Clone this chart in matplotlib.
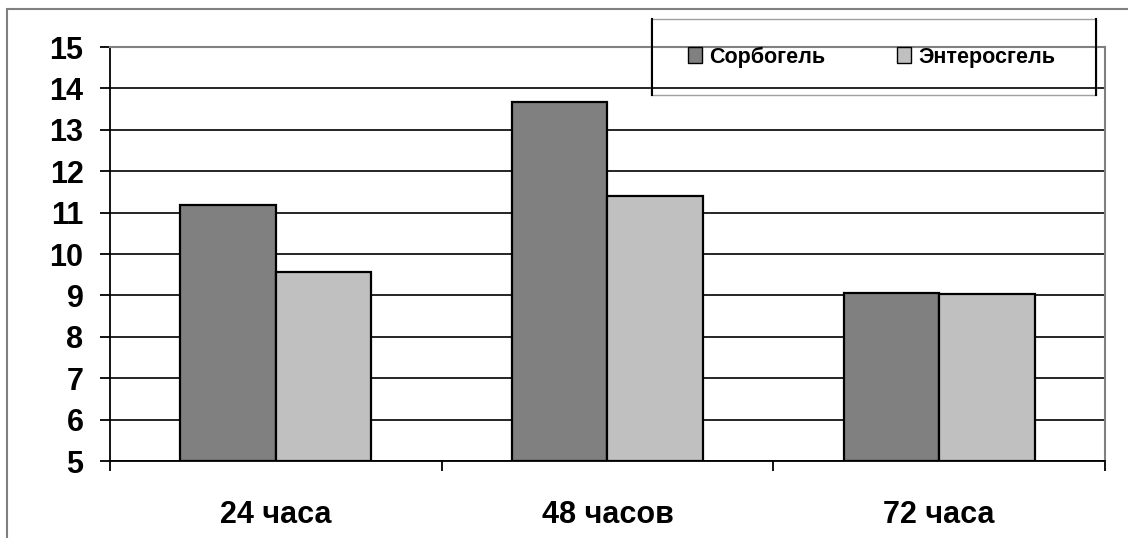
import numpy as np
import matplotlib
matplotlib.use("Agg")
import matplotlib.pyplot as plt
from matplotlib.patches import Rectangle
from matplotlib.lines import Line2D

plt.rcParams['font.family'] = ['Liberation Sans', 'DejaVu Sans']
plt.rcParams['font.weight'] = 'bold'

# data
categories = ["24 часа", "48 часов", "72 часа"]
series_names = ["Сорбогель", "Энтеросгель"]
sorbogel = [11.18, 13.68, 9.06]
enterosgel = [9.57, 11.41, 9.03]
colors = ["#808080", "#C0C0C0"]

fig = plt.figure(figsize=(11.28, 5.38), dpi=100)
ax = fig.add_axes([0.0975, 0.1431, 0.8821, 0.7695])

x = np.arange(len(categories))
w = 0.288
bars1 = ax.bar(x - w / 2, np.array(sorbogel) - 5, w, bottom=5, color=colors[0],
               edgecolor="black", linewidth=1.6, label=series_names[0], zorder=3)
bars2 = ax.bar(x + w / 2, np.array(enterosgel) - 5, w, bottom=5, color=colors[1],
               edgecolor="black", linewidth=1.6, label=series_names[1], zorder=3)

ax.set_xlim(-0.5, len(categories) - 0.5)
ax.set_ylim(5, 15)
ax.set_yticks(range(5, 16))
ax.yaxis.grid(True, color="black", linewidth=1.2)
ax.set_axisbelow(True)

# category boundaries as major ticks, labels on minor ticks
ax.set_xticks(np.arange(-0.5, len(categories), 1.0))
ax.set_xticklabels([])
ax.set_xticks(x, minor=True)
ax.set_xticklabels(categories, minor=True, fontsize=22, fontweight="bold")
ax.tick_params(axis="x", which="major", direction="out", length=7, width=1.3)
ax.tick_params(axis="x", which="minor", length=0, pad=28)
ax.tick_params(axis="y", direction="out", length=7, width=1.3, pad=12, labelsize=22)
for lab in ax.get_yticklabels():
    lab.set_fontweight("bold")

for side in ["left", "bottom"]:
    ax.spines[side].set_color("black")
    ax.spines[side].set_linewidth(1.3)
for side in ["top", "right"]:
    ax.spines[side].set_color("#808080")
    ax.spines[side].set_linewidth(1.5)

# legend
W, H = 1128, 538
leg = fig.legend(handles=[bars1, bars2], labels=series_names, ncol=2,
                 loc="center left", bbox_to_anchor=(688 / W, 1 - 57 / H),
                 frameon=False, fontsize=15.5, borderpad=0, borderaxespad=0,
                 handlelength=0.65, handleheight=0.75,
                 handletextpad=0.35, columnspacing=3.3)
for t in leg.get_texts():
    t.set_fontweight("bold")
for h in leg.legend_handles:
    h.set_linewidth(1.0)

fig.add_artist(Rectangle((651 / W, 1 - 95 / H), (1096 - 651) / W, (95 - 19) / H,
                         transform=fig.transFigure, fill=False,
                         edgecolor="#a0a0a0", linewidth=1.0))
for xx in [652, 1096]:
    fig.add_artist(Line2D([xx / W, xx / W], [1 - 95 / H, 1 - 19 / H],
                          transform=fig.transFigure, color="black", linewidth=1.5))

# outer chart border
fig.add_artist(Rectangle((7 / W, -0.02), 1.05, 1 - 9 / H + 0.02,
                         transform=fig.transFigure, fill=False,
                         edgecolor="#808080", linewidth=1.5))

fig.savefig("out.png", dpi=100)
